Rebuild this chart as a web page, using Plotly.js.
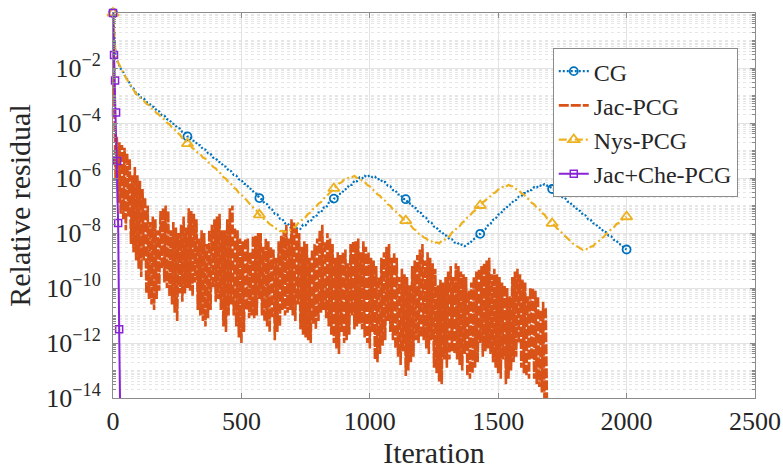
<!DOCTYPE html>
<html>
<head>
<meta charset="utf-8">
<script src="https://cdn.plot.ly/plotly-3.0.1.min.js"></script>
<style>html,body{margin:0;padding:0;background:#fff;}#chart{width:783px;height:472px;}</style>
</head>
<body>
<div id="chart"></div>
<script>
// ---- Data (log10 of relative residual) ----
var seriesNames = ['CG', 'Jac-PCG', 'Nys-PCG', 'Jac+Che-PCG'];

// CG: one value every 10 iterations, iterations 0..2000
var cgStep = 10;
var cgLog = [
 0,-1.55,-1.82,-2.02,-2.15,-2.36,-2.45,-2.66,-2.74,-2.93,
 -2.96,-3.08,-3.11,-3.24,-3.27,-3.39,-3.42,-3.55,-3.58,-3.71,
 -3.73,-3.86,-3.89,-4.02,-4.04,-4.17,-4.2,-4.33,-4.36,-4.49,
 -4.5,-4.64,-4.66,-4.8,-4.81,-4.95,-4.97,-5.1,-5.12,-5.26,
 -5.28,-5.41,-5.43,-5.57,-5.59,-5.73,-5.75,-5.89,-5.91,-6.05,
 -6.07,-6.21,-6.23,-6.38,-6.4,-6.55,-6.57,-6.73,-6.78,-6.92,
 -6.95,-7.1,-7.15,-7.3,-7.32,-7.48,-7.5,-7.65,-7.64,-7.79,
 -7.76,-7.87,-7.8,-7.85,-7.7,-7.72,-7.58,-7.58,-7.42,-7.42,
 -7.25,-7.26,-7.08,-7.08,-6.9,-6.9,-6.75,-6.73,-6.58,-6.57,
 -6.42,-6.4,-6.25,-6.25,-6.1,-6.12,-5.98,-6.02,-5.92,-5.97,
 -5.9,-5.97,-5.95,-6.05,-6.03,-6.15,-6.15,-6.28,-6.3,-6.44,
 -6.45,-6.6,-6.6,-6.76,-6.77,-6.92,-6.93,-7.08,-7.1,-7.26,
 -7.27,-7.42,-7.45,-7.6,-7.62,-7.77,-7.8,-7.93,-7.95,-8.08,
 -8.1,-8.22,-8.23,-8.35,-8.34,-8.44,-8.42,-8.48,-8.4,-8.38,
 -8.25,-8.2,-8.07,-8.03,-7.9,-7.86,-7.72,-7.67,-7.52,-7.48,
 -7.33,-7.3,-7.15,-7.12,-6.98,-6.95,-6.82,-6.8,-6.68,-6.67,
 -6.55,-6.55,-6.43,-6.44,-6.33,-6.35,-6.26,-6.3,-6.22,-6.28,
 -6.3,-6.4,-6.42,-6.55,-6.57,-6.7,-6.72,-6.86,-6.88,-7.02,
 -7.04,-7.18,-7.2,-7.34,-7.36,-7.5,-7.52,-7.65,-7.67,-7.8,
 -7.82,-7.95,-7.97,-8.1,-8.12,-8.25,-8.27,-8.4,-8.42,-8.55,
 -8.6
];
var cgMarkerIters = [0, 290, 570, 860, 1140, 1430, 1710, 2000];

// Jac-PCG: one value every 5 iterations, iterations 0..1690
var jacStep = 5;
var jacLog = [
 0,-3.2,-6.0,-4.5,-6.9,-4.7,-7.3,-4.8,-7.5,-4.9,
 -7.9,-5.1,-7.4,-5.3,-8.4,-5.9,-8.7,-5.6,-9.0,-5.9,
 -9.3,-6.1,-9.6,-6.4,-9.0,-6.7,-10.2,-7.0,-10.4,-7.6,
 -10.6,-7.4,-10.8,-7.5,-10.4,-7.9,-10.1,-7.2,-9.3,-7.1,
 -9.8,-7.0,-10.0,-7.2,-10.3,-7.9,-10.6,-7.6,-10.9,-7.8,
 -11.2,-8.0,-10.2,-7.7,-10.5,-7.4,-10.2,-7.8,-10.0,-7.1,
 -10.1,-7.2,-10.3,-7.3,-9.8,-7.5,-10.8,-8.2,-11.0,-7.9,
 -11.2,-8.0,-11.4,-8.4,-11.1,-7.9,-10.8,-7.7,-10.0,-7.5,
 -10.5,-7.4,-10.4,-7.3,-10.8,-7.9,-11.4,-7.9,-11.6,-7.5,
 -11.0,-7.1,-10.6,-7.0,-11.0,-7.8,-11.4,-7.9,-11.8,-8.2,
 -12.0,-8.3,-11.6,-8.2,-10.8,-8.2,-11.1,-8.7,-11.0,-8.1,
 -11.1,-8.1,-11.0,-8.0,-10.4,-8.0,-11.0,-8.5,-11.2,-8.2,
 -11.4,-8.3,-11.6,-8.5,-11.1,-8.6,-11.9,-8.9,-11.6,-8.3,
 -11.4,-8.1,-10.8,-7.9,-11.0,-7.7,-10.9,-8.2,-10.8,-7.5,
 -11.0,-7.6,-11.2,-7.8,-10.6,-8.0,-11.5,-8.5,-11.7,-8.3,
 -11.8,-8.4,-11.9,-8.9,-12.0,-8.6,-11.3,-8.4,-11.5,-8.2,
 -11.2,-7.9,-10.9,-7.7,-10.8,-8.3,-11.1,-8.0,-11.4,-8.2,
 -11.7,-8.4,-12.0,-8.9,-12.2,-8.7,-12.4,-8.8,-11.6,-8.7,
 -12.0,-8.6,-11.9,-9.1,-11.7,-8.4,-11.0,-8.3,-11.5,-8.3,
 -11.4,-8.2,-11.3,-8.7,-11.5,-8.3,-11.8,-8.5,-12.0,-8.7,
 -12.2,-8.9,-11.6,-9.0,-12.6,-9.2,-12.7,-9.6,-12.4,-8.9,
 -12.1,-8.7,-11.9,-8.5,-11.2,-8.4,-11.6,-8.9,-11.9,-8.7,
 -12.2,-8.9,-12.5,-9.6,-12.8,-9.3,-12.3,-9.5,-13.2,-9.6,
 -13.0,-9.9,-12.7,-9.2,-12.5,-9.0,-11.9,-8.8,-12.0,-8.6,
 -11.8,-8.4,-11.9,-9.0,-12.2,-8.7,-12.4,-8.9,-11.9,-9.1,
 -12.9,-9.3,-13.1,-9.9,-13.4,-9.7,-13.5,-9.8,-12.6,-9.6,
 -12.9,-9.4,-12.6,-9.2,-12.3,-9.6,-12.4,-9.1,-12.6,-9.2,
 -12.8,-9.4,-13.0,-9.5,-12.4,-9.6,-13.2,-10.1,-13.3,-9.8,
 -13.1,-9.6,-12.9,-9.4,-12.7,-9.3,-12.0,-9.2,-12.5,-9.1,
 -12.3,-9.0,-12.2,-8.9,-12.4,-9.5,-12.7,-9.3,-12.9,-9.5,
 -13.1,-9.6,-13.3,-9.8,-12.6,-9.9,-13.5,-10.0,-13.3,-10.3,
 -13.0,-9.6,-12.7,-9.4,-12.5,-9.3,-12.0,-9.5,-12.9,-9.7,
 -13.1,-9.8,-13.2,-10.3,-13.3,-10.0,-12.6,-10.0,-13.3,-10.1,
 -13.5,-10.3,-13.6,-10.8,-13.8,-10.5,-14.0,-10.7,-14.3
];

// Nys-PCG: one value every 10 iterations, iterations 0..2000
var nysStep = 10;
var nysLog = [
 0,-1.5,-1.8,-2.0,-2.2,-2.35,-2.5,-2.67,-2.8,-2.95,
 -3.02,-3.13,-3.19,-3.3,-3.36,-3.47,-3.53,-3.64,-3.7,-3.82,
 -3.87,-3.99,-4.05,-4.17,-4.23,-4.35,-4.42,-4.55,-4.62,-4.75,
 -4.8,-4.92,-4.97,-5.09,-5.13,-5.26,-5.3,-5.43,-5.47,-5.6,
 -5.65,-5.78,-5.84,-5.97,-6.03,-6.16,-6.22,-6.35,-6.41,-6.54,
 -6.6,-6.72,-6.8,-6.92,-7.0,-7.12,-7.2,-7.34,-7.4,-7.52,
 -7.58,-7.68,-7.73,-7.83,-7.85,-7.93,-7.92,-7.97,-7.9,-7.9,
 -7.8,-7.78,-7.65,-7.6,-7.47,-7.42,-7.3,-7.25,-7.12,-7.06,
 -6.93,-6.88,-6.75,-6.68,-6.56,-6.48,-6.38,-6.3,-6.2,-6.16,
 -6.06,-6.05,-5.96,-5.98,-5.92,-6.0,-6.0,-6.1,-6.14,-6.25,
 -6.3,-6.42,-6.48,-6.6,-6.65,-6.78,-6.83,-6.96,-7.01,-7.14,
 -7.2,-7.32,-7.38,-7.5,-7.55,-7.68,-7.73,-7.85,-7.9,-8.02,
 -8.06,-8.16,-8.2,-8.3,-8.3,-8.38,-8.34,-8.38,-8.28,-8.27,
 -8.15,-8.12,-7.98,-7.94,-7.8,-7.75,-7.62,-7.56,-7.43,-7.37,
 -7.25,-7.18,-7.06,-7.0,-6.88,-6.82,-6.72,-6.66,-6.56,-6.52,
 -6.42,-6.4,-6.3,-6.32,-6.25,-6.3,-6.3,-6.4,-6.45,-6.55,
 -6.6,-6.72,-6.78,-6.9,-6.96,-7.08,-7.14,-7.27,-7.33,-7.46,
 -7.52,-7.65,-7.72,-7.84,-7.9,-8.02,-8.1,-8.2,-8.28,-8.38,
 -8.45,-8.52,-8.56,-8.62,-8.57,-8.6,-8.5,-8.48,-8.36,-8.32,
 -8.2,-8.15,-8.03,-7.98,-7.86,-7.8,-7.68,-7.63,-7.52,-7.48,
 -7.41
];
var nysMarkerIters = [0, 290, 570, 860, 1140, 1430, 1710, 2000];

// Jac+Che-PCG
var cheIters = [0, 4, 8, 12, 16, 20, 24, 28];
var cheLog = [0, -1.53, -2.45, -3.62, -5.38, -7.64, -11.5, -14.6];

// Axis ticks
var xTicks = [0, 500, 1000, 1500, 2000, 2500];
var yTickExps = [0, -2, -4, -6, -8, -10, -12, -14];
var yTickText = ['10<sup>0</sup>', '10<sup>\u22122</sup>', '10<sup>\u22124</sup>', '10<sup>\u22126</sup>',
                 '10<sup>\u22128</sup>', '10<sup>\u221210</sup>', '10<sup>\u221212</sup>', '10<sup>\u221214</sup>'];

(function () {
  function toPow(a) { return a.map(function (v) { return Math.pow(10, v); }); }
  function itersOf(n, step) { var r = []; for (var i = 0; i < n; i++) r.push(i * step); return r; }
  var clear = 'rgba(0,0,0,0)';
  function mcol(xsArr, marks, col) { return xsArr.map(function (x) { return marks.indexOf(x) >= 0 ? col : clear; }); }

  var cgX = itersOf(cgLog.length, cgStep);
  var jacX = itersOf(jacLog.length, jacStep);
  var nysX = itersOf(nysLog.length, nysStep);

  var colCG = '#0072BD', colJac = '#D95319', colNys = '#EDB120', colChe = '#8A22D6';
  var ink = '#262626', axc = '#8c8c8c';

  var data = [
    {
      name: seriesNames[0], x: cgX, y: toPow(cgLog), type: 'scatter', mode: 'lines+markers',
      line: {color: colCG, width: 2.2, dash: '2px,2px'},
      marker: {symbol: 'circle-open', size: 8, color: mcol(cgX, cgMarkerIters, colCG), line: {width: 1.8}},
      cliponaxis: false
    },
    {
      name: seriesNames[1], x: jacX, y: toPow(jacLog), type: 'scatter', mode: 'lines',
      line: {color: colJac, width: 2.6, dash: '10px,2px'}
    },
    {
      name: seriesNames[2], x: nysX, y: toPow(nysLog), type: 'scatter', mode: 'lines+markers',
      line: {color: colNys, width: 2.2, dash: '8px,3px,2px,3px'},
      marker: {symbol: 'triangle-up-open', size: 10, color: mcol(nysX, nysMarkerIters, colNys), line: {width: 1.8}},
      cliponaxis: false
    },
    {
      name: seriesNames[3], x: cheIters, y: toPow(cheLog), type: 'scatter', mode: 'lines+markers',
      line: {color: colChe, width: 2},
      marker: {symbol: 'square-open', size: 7, color: cheIters.map(function (x, i) { return i < cheIters.length - 1 ? colChe : clear; }), line: {width: 1.5}},
      cliponaxis: false
    }
  ];

  var minorPos = [];
  for (var d = -14; d < 0; d++) {
    for (var k = 1; k <= 9; k++) {
      if (k === 1 && (d % 2 === 0)) continue;
      minorPos.push(k * Math.pow(10, d));
    }
  }

  var lay = {
    width: 783, height: 472,
    margin: {l: 113, r: 28, t: 13, b: 74, pad: 0},
    paper_bgcolor: '#fff', plot_bgcolor: '#fff',
    showlegend: true,
    legend: {
      x: 0.685, y: 0.909, xanchor: 'left', yanchor: 'top',
      bgcolor: '#fff', bordercolor: axc, borderwidth: 1,
      font: {family: 'Liberation Serif', size: 24, color: ink},
      tracegroupgap: 0
    },
    xaxis: {
      range: [0, 2500], tickmode: 'array', tickvals: xTicks, ticktext: xTicks.map(String),
      ticks: 'inside', ticklen: 5, tickcolor: axc, tickwidth: 1,
      showline: true, linecolor: axc, linewidth: 1, mirror: 'ticks',
      showgrid: true, gridcolor: '#e3e3e3', gridwidth: 1, zeroline: false,
      tickfont: {family: 'Liberation Serif', size: 26, color: ink},
      title: {text: 'Iteration', font: {family: 'Liberation Serif', size: 30, color: ink}, standoff: 4},
      automargin: false
    },
    yaxis: {
      type: 'log', range: [-14, 0],
      tickmode: 'array', tickvals: yTickExps.map(function (e) { return Math.pow(10, e); }), ticktext: yTickText,
      ticks: 'inside', ticklen: 5, tickcolor: axc, tickwidth: 1,
      showline: true, linecolor: axc, linewidth: 1, mirror: 'ticks',
      showgrid: true, gridcolor: '#e3e3e3', gridwidth: 1, zeroline: false,
      ticklabelstandoff: 6,
      tickfont: {family: 'Liberation Serif', size: 26, color: ink},
      title: {text: 'Relative residual', font: {family: 'Liberation Serif', size: 30, color: ink}, standoff: 6},
      automargin: false,
      minor: {tickmode: 'array', tickvals: minorPos, ticks: 'inside', ticklen: 3, tickcolor: axc,
              showgrid: true, gridcolor: '#e6e6e6', griddash: 'dot', gridwidth: 1}
    }
  };

  Plotly.newPlot('chart', data, lay, {displayModeBar: false, staticPlot: true});
})();
</script>
</body>
</html>
